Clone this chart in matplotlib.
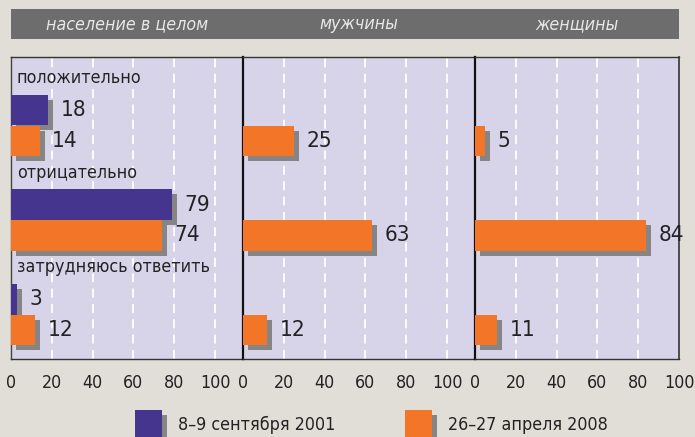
import matplotlib
matplotlib.use("Agg")
import matplotlib.pyplot as plt
from matplotlib.patches import Rectangle
from matplotlib import font_manager

# ---- data ----
panels = ["население в целом", "мужчины", "женщины"]
categories = ["положительно", "отрицательно", "затрудняюсь ответить"]
series_names = ["8–9 сентября 2001", "26–27 апреля 2008"]
total_2001 = [18, 79, 3]
total_2008 = [14, 74, 12]
men_2008 = [25, 63, 12]
women_2008 = [5, 84, 11]
tick_values = [0, 20, 40, 60, 80, 100]

# ---- fonts: prefer a condensed face ----
fl = font_manager.fontManager.ttflist
names = {f.name for f in fl}
STRETCH = "normal"
SCALE = 0.86
if "Liberation Sans Narrow" in names:
    plt.rcParams["font.family"] = ["Liberation Sans Narrow", "DejaVu Sans"]
    SCALE = 1.0
elif any(f.name == "DejaVu Sans" and f.stretch == "condensed" for f in fl):
    plt.rcParams["font.family"] = ["DejaVu Sans"]
    STRETCH = "condensed"
    SCALE = 0.95
else:
    plt.rcParams["font.family"] = ["DejaVu Sans"]
plt.rcParams["font.stretch"] = STRETCH

FIG_BG = "#E1DED7"
PANEL_BG = "#D7D4EA"
HEADER = "#6D6D6D"
PURPLE = "#45358F"
ORANGE = "#F37527"
SHADOW = "#858585"
TEXT = "#222222"

FS_NUM = 17 * SCALE
FS_LAB = 13.5 * SCALE
FS_TICK = 13.5 * SCALE

W, H = 695, 437
fig = plt.figure(figsize=(W / 100, H / 100), dpi=100, facecolor=FIG_BG)

PX = 2.04          # pixels per value unit
TOP, BOT = 57, 359  # plot area in pixels from top
panel_x = [(11, 243), (243, 475), (475, 679)]

def fx(x):
    return x / W

def fy(y):
    return 1 - y / H

# header band
fig.patches.append(Rectangle((fx(11), fy(39)), fx(679 - 11), 30 / H,
                             transform=fig.transFigure, facecolor=HEADER,
                             edgecolor="none", zorder=0))

panel_series = [[total_2001, total_2008], [None, men_2008], [None, women_2008]]
colors = [PURPLE, ORANGE]

label_y0, bar1_y0, bar2_y0, gstep = 78, 110.2, 140.8, 94.5
bar_h = 30.6
sdx, sdy = 5, 5

for p, (x0, x1) in enumerate(panel_x):
    ax = fig.add_axes([fx(x0), fy(BOT), fx(x1 - x0), (BOT - TOP) / H])
    ax.set_facecolor(PANEL_BG)
    ax.set_xlim(0, (x1 - x0) / PX)
    ax.set_ylim(BOT, TOP)
    for g in [20, 40, 60, 80, 100]:
        if g < (x1 - x0) / PX - 1:
            ax.axvline(g, color="white", lw=1.3, dashes=(5, 3.5), zorder=1)
    for si, vals in enumerate(panel_series[p]):
        if vals is None:
            continue
        ys = [(bar1_y0 if si == 0 else bar2_y0) + gstep * i for i in range(len(vals))]
        ax.barh([y + sdy for y in ys], vals, left=sdx / PX, height=bar_h,
                color=SHADOW, zorder=2)
        ax.barh(ys, vals, height=bar_h, color=colors[si], zorder=3)
        for v, y in zip(vals, ys):
            ax.annotate(str(v), (v + sdx / PX, y), xytext=(5.5, 0),
                        textcoords="offset points", va="center", ha="left",
                        fontsize=FS_NUM, color=TEXT, zorder=4)
    if p == 0:
        for i, c in enumerate(categories):
            ax.text(6 / PX, label_y0 + gstep * i, c, va="center", ha="left",
                    fontsize=FS_LAB, color=TEXT, zorder=4)
    ax.set_xticks(tick_values)
    ax.set_xticklabels([str(t) for t in tick_values], fontsize=FS_TICK, color=TEXT)
    ax.tick_params(axis="x", length=0, pad=11)
    ax.set_yticks([])
    for s in ["top", "bottom"]:
        ax.spines[s].set_color("#333333")
        ax.spines[s].set_linewidth(1.0)
    ax.spines["left"].set_color("#111111" if p > 0 else "#444444")
    ax.spines["left"].set_linewidth(1.6 if p > 0 else 1.0)
    ax.spines["right"].set_visible(p == 2)
    ax.spines["right"].set_color("#333333")
    ax.spines["right"].set_linewidth(1.2)
    fig.text(fx((x0 + x1) / 2), fy(24), panels[p], ha="center", va="center",
             fontsize=FS_LAB, style="italic", color="#E8E8E8")

# legend
leg = [(135, 178), (405, 448)]
for (sx, tx), col, name in zip(leg, colors, series_names):
    fig.patches.append(Rectangle((fx(sx + 5), fy(440)), fx(27), (440 - 415) / H,
                                 transform=fig.transFigure, facecolor=SHADOW,
                                 edgecolor="none"))
    fig.patches.append(Rectangle((fx(sx), fy(440)), fx(27), (440 - 410) / H,
                                 transform=fig.transFigure, facecolor=col,
                                 edgecolor="none"))
    fig.text(fx(tx), fy(425), name, ha="left", va="center", fontsize=FS_LAB,
             color=TEXT)

fig.savefig("out.png", dpi=100, facecolor=FIG_BG)
